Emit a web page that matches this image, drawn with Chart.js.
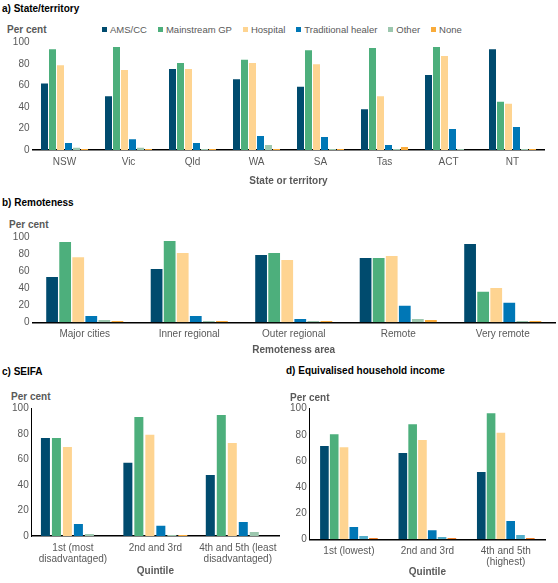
<!DOCTYPE html>
<html>
<head>
<meta charset="utf-8">
<script src="https://cdn.jsdelivr.net/npm/chart.js@4"></script>
<style>
  body { margin: 0; background: #fff; width: 558px; height: 583px; position: relative; overflow: hidden; font-family: 'Liberation Sans', Arial, sans-serif; }
  canvas { position: absolute; }
  .ttl { position: absolute; font-size: 10px; font-weight: bold; color: #000; line-height: 12px; white-space: nowrap; }
  .pc { position: absolute; font-size: 10px; font-weight: bold; color: #595959; line-height: 12px; white-space: nowrap; }
  #legend { position: absolute; left: 102px; top: 24px; display: flex; gap: 11px; font-size: 9.5px; color: #595959; line-height: 12px; }
  #legend span.sw { display: inline-block; width: 5px; height: 5px; margin-right: 3px; vertical-align: 1px; }
</style>
</head>
<body>
<div class="ttl" style="left:2px;top:3px">a) State/territory</div>
<div class="pc" style="left:7px;top:24px">Per cent</div>
<div id="legend"></div>
<canvas id="chartA" width="558" height="165" style="left:0;top:30px"></canvas>

<div class="ttl" style="left:2px;top:197px">b) Remoteness</div>
<div class="pc" style="left:9px;top:219px">Per cent</div>
<canvas id="chartB" width="558" height="133" style="left:0;top:225px"></canvas>

<div class="ttl" style="left:2px;top:366px">c) SEIFA</div>
<div class="pc" style="left:11px;top:391px">Per cent</div>
<canvas id="chartC" width="285" height="187" style="left:0;top:396px"></canvas>

<div class="ttl" style="left:286px;top:365px">d) Equivalised household income</div>
<div class="pc" style="left:290px;top:392px">Per cent</div>
<canvas id="chartD" width="280" height="187" style="left:278px;top:396px"></canvas>

<script>
const seriesNames = ['AMS/CC', 'Mainstream GP', 'Hospital', 'Traditional healer', 'Other', 'None'];
const colours = ['#004b6e', '#4daf7c', '#fed491', '#0077b6', '#9cc7ae', '#f9ab3a'];
const coloursIncome = ['#004b6e', '#4daf7c', '#fed491', '#0077b6', '#52aecb', '#f2822e'];

// a) State/territory
const stateLabels = ['NSW', 'Vic', 'Qld', 'WA', 'SA', 'Tas', 'ACT', 'NT'];
const stateAms = [62, 50, 75.5, 66, 59, 38, 70, 94];
const stateGp = [94, 96, 81, 84, 93, 95, 96, 45];
const stateHosp = [79, 74.5, 75.5, 81, 80, 50, 87.5, 43];
const stateTrad = [6.5, 10, 6.5, 13, 12, 4.7, 19.5, 21.5];
const stateOther = [2, 2, 1, 4.7, 1, 1, 1, 1];
const stateNone = [1, 1, 1, 1, 1, 2.8, 0, 1];

// b) Remoteness
const remoteLabels = ['Major cities', 'Inner regional', 'Outer regional', 'Remote', 'Very remote'];
const remoteAms = [53.5, 63, 79.5, 76, 92.5];
const remoteGp = [95, 96, 82, 76, 36];
const remoteHosp = [77, 82, 73.5, 78.5, 40.5];
const remoteTrad = [7.5, 7.5, 4, 19.5, 23];
const remoteOther = [2.8, 1.5, 1.5, 4, 1.5];
const remoteNone = [1.5, 1.5, 1.5, 2.8, 1.5];

// c) SEIFA
const seifaLabels = [['1st (most', 'disadvantaged)'], '2nd and 3rd', ['4th and 5th (least', 'disadvantaged)']];
const seifaAms = [77, 57.5, 48];
const seifaGp = [77, 93.5, 95];
const seifaHosp = [70, 79.5, 73];
const seifaTrad = [9.5, 8, 11];
const seifaOther = [1.6, 0.8, 3.1];
const seifaNone = [0, 0.8, 0];

// d) Equivalised household income
const incomeLabels = ['1st (lowest)', '2nd and 3rd', ['4th and 5th', '(highest)']];
const incomeAms = [71.5, 66, 51.5];
const incomeGp = [80.5, 88, 96.5];
const incomeHosp = [70.5, 76, 81.5];
const incomeTrad = [9.4, 7, 14];
const incomeOther = [2.6, 1.8, 3.3];
const incomeNone = [1, 1, 1];

const fontFamily = "'Liberation Sans', Arial, sans-serif";
const grey = '#595959';

// legend (shared, drawn once above panel a)
const legendEl = document.getElementById('legend');
seriesNames.forEach((name, i) => {
  const item = document.createElement('div');
  const sw = document.createElement('span');
  sw.className = 'sw';
  sw.style.background = colours[i];
  item.appendChild(sw);
  item.appendChild(document.createTextNode(name));
  legendEl.appendChild(item);
});

const makeChart = (id, labels, series, cols, cfg) => {
  const datasets = series.map((values, i) => ({
    label: seriesNames[i],
    data: values,
    backgroundColor: cols[i],
    borderWidth: 0,
    barPercentage: cfg.barPct,
    categoryPercentage: cfg.catPct,
  }));

  return new Chart(document.getElementById(id), {
    type: 'bar',
    data: { labels: labels, datasets: datasets },
    options: {
      responsive: false,
      animation: false,
      layout: { padding: { top: 12.7, right: cfg.padRight, left: 0, bottom: 0 } },
      plugins: { legend: { display: false }, tooltip: { enabled: false } },
      scales: {
        x: {
          grid: { display: false, drawTicks: false },
          border: { display: true, color: '#000', width: 1.5 },
          ticks: {
            color: grey,
            padding: 6,
            autoSkip: false,
            maxRotation: 0,
            font: { family: fontFamily, size: 10, lineHeight: 1.15 },
          },
          title: {
            display: true,
            text: cfg.xTitle,
            color: grey,
            font: { family: fontFamily, size: 10, weight: 'bold' },
            padding: { top: 0, bottom: cfg.titlePad },
          },
          afterFit: (scale) => { scale.height = cfg.xHeight; },
        },
        y: {
          min: 0,
          max: 100,
          grid: { display: false, drawTicks: false },
          border: { display: cfg.yLine, color: '#000', width: 1 },
          ticks: {
            stepSize: 20,
            color: grey,
            padding: 3,
            font: { family: fontFamily, size: 10 },
          },
          afterFit: (scale) => { scale.width = cfg.yWidth; },
        },
      },
    },
  });
};

makeChart('chartA', stateLabels,
  [stateAms, stateGp, stateHosp, stateTrad, stateOther, stateNone], colours,
  { barPct: 0.875, catPct: 0.75, padRight: 13.5, xTitle: 'State or territory', titlePad: 7.5, xHeight: 45, yWidth: 32.5, yLine: false });

makeChart('chartB', remoteLabels,
  [remoteAms, remoteGp, remoteHosp, remoteTrad, remoteOther, remoteNone], colours,
  { barPct: 0.9, catPct: 0.75, padRight: 3, xTitle: 'Remoteness area', titlePad: 2, xHeight: 35.7, yWidth: 32.5, yLine: false });

makeChart('chartC', seifaLabels,
  [seifaAms, seifaGp, seifaHosp, seifaTrad, seifaOther, seifaNone], colours,
  { barPct: 0.82, catPct: 0.8, padRight: 6, xTitle: 'Quintile', titlePad: 5.5, xHeight: 47, yWidth: 31.7, yLine: true });

makeChart('chartD', incomeLabels,
  [incomeAms, incomeGp, incomeHosp, incomeTrad, incomeOther, incomeNone], coloursIncome,
  { barPct: 0.88, catPct: 0.75, padRight: 13, xTitle: 'Quintile', titlePad: 5, xHeight: 43.7, yWidth: 31.7, yLine: true });
</script>
</body>
</html>
